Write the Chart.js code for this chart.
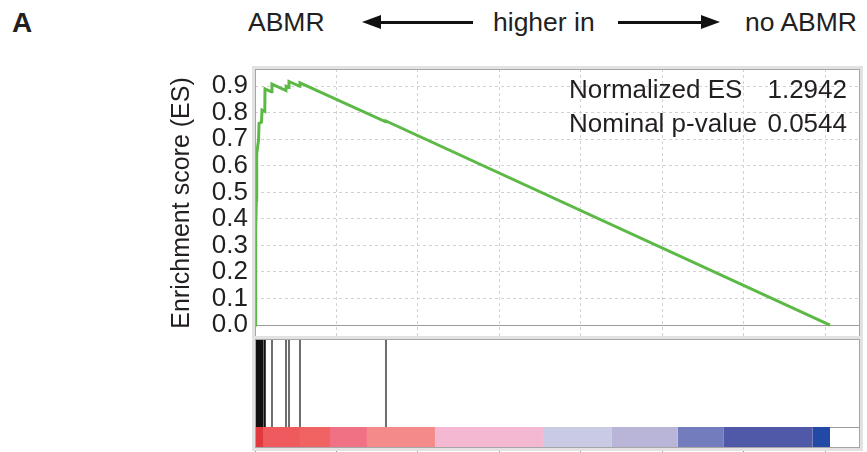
<!DOCTYPE html>
<html>
<head>
<meta charset="utf-8">
<script src="https://cdn.jsdelivr.net/npm/chart.js@4.4.1/dist/chart.umd.min.js"></script>
<style>
  html, body { margin: 0; padding: 0; background: #fff; }
  #wrap { position: relative; width: 867px; height: 452px; overflow: hidden;
          font-family: 'Liberation Sans', Arial, Helvetica, sans-serif; color: #231f20; }
  canvas { position: absolute; left: 0; }
  #es   { top: 0; }
  #hits { top: 335px; }
  .txt  { position: absolute; font-size: 26.5px; line-height: 27px; top: 9px; white-space: nowrap; }
  .panel { left: 12px; font-weight: bold; font-size: 28px; }
  .arrow { position: absolute; top: 15px; height: 14px; }
  .arrow::before { content: ''; position: absolute; top: 5.5px; height: 3px; background: #111; }
  .arrow::after  { content: ''; position: absolute; top: 0; border-top: 7px solid transparent; border-bottom: 7px solid transparent; }
  .arrow.left::before  { left: 16px; right: 0; }
  .arrow.left::after   { left: 0; border-right: 19px solid #111; }
  .arrow.right::before { left: 0; right: 16px; }
  .arrow.right::after  { right: 0; border-left: 19px solid #111; }
  #stats { position: absolute; left: 569px; width: 278px; top: 72px; font-size: 26px; line-height: 34px; z-index: 2; }
  #stats div { display: flex; justify-content: space-between; }
</style>
</head>
<body>
<div id="wrap">
  <span class="txt panel">A</span>
  <span class="txt" style="left:248px">ABMR</span>
  <div class="arrow left" style="left:362px; width:111px"></div>
  <span class="txt" style="left:493px">higher in</span>
  <div class="arrow right" style="left:618px; width:102px"></div>
  <span class="txt" style="left:745px">no ABMR</span>

  <canvas id="es" width="867" height="362"></canvas>
  <canvas id="hits" width="867" height="117"></canvas>

  <div id="stats">
    <div><span>Normalized ES</span><span>1.2942</span></div>
    <div><span>Nominal p-value</span><span>0.0544</span></div>
  </div>
</div>

<script>
// running enrichment score (rank in gene list -> ES)
const esRank  = [0, 10, 20, 30, 40, 50, 55, 110, 123, 200, 215, 300, 307, 500, 521, 950, 955, 1040, 1043, 1370, 1380, 4010, 4018, 17640];
const esValue = [0, 0.12, 0.24, 0.36, 0.47, 0.58, 0.645, 0.70, 0.76, 0.765, 0.81, 0.805, 0.89, 0.879, 0.908, 0.884, 0.90, 0.895, 0.918, 0.900, 0.913, 0.766, 0.769, 0];

// gene set members in the ranked list
const hitsEarly = [3, 12, 21, 30, 40, 50, 60, 75, 95, 110, 123, 140, 160, 180, 200, 215, 228, 300];
const hitsLate  = [521, 951, 1043, 1380, 4018];

// ranked list metric colour band
const bandEdges = [0, 245, 1380, 2300, 3435, 5520, 8833, 10950, 12973, 14384, 17114, 17640];
const bandFills = ['#e2393f', '#ee5a5d', '#f06362', '#f17184', '#f48a89', '#f4b8d3',
                   '#c9cbe5', '#b8b5d8', '#737dbd', '#4f59a8', '#2349a6'];

const yTicks = [0, 0.1, 0.2, 0.3, 0.4, 0.5, 0.6, 0.7, 0.8, 0.9];
const xGrid  = [0, 2500, 5000, 7500, 10000, 12500, 15000, 17500];

const RANK_MAX = 18560;
const Y_MIN = -0.045, Y_MAX = 0.965;
const BAR_TOP = 21, HIT_TOP = 108, LOWER_MAX = 109;

const FONT = "'Liberation Sans', Arial, Helvetica, sans-serif";
const INK  = '#231f20';

// gray frame around each panel, plus an optional horizontal rule
const framePlugin = {
  id: 'frame',
  beforeDatasetsDraw(chart, args, opts) {
    if (opts.ruleAt === undefined) return;
    const { ctx, chartArea: a, scales } = chart;
    const y = Math.round(scales.y.getPixelForValue(opts.ruleAt)) + 0.5;
    ctx.save();
    ctx.strokeStyle = '#9c9c9c';
    ctx.lineWidth = 1.2;
    ctx.beginPath(); ctx.moveTo(a.left, y); ctx.lineTo(a.right, y); ctx.stroke();
    ctx.restore();
  },
  afterDraw(chart) {
    const { ctx, chartArea: a } = chart;
    ctx.save();
    ctx.strokeStyle = '#e2e2e2';
    ctx.lineWidth = 3;
    ctx.strokeRect(a.left - 1.5, a.top - 1.5, a.right - a.left + 3, a.bottom - a.top + 3);
    ctx.strokeStyle = '#a6a6a6';
    ctx.lineWidth = 1;
    ctx.strokeRect(a.left + 0.5, a.top + 0.5, a.right - a.left - 1, a.bottom - a.top - 1);
    ctx.restore();
  },
};

function setTicks(values) {
  return function (scale) { scale.ticks = values.map(function (v) { return { value: v }; }); };
}

new Chart(document.getElementById('es'), {
  type: 'line',
  data: {
    datasets: [{
      data: esRank.map(function (r, i) { return { x: r, y: esValue[i] }; }),
      borderColor: '#5cb946',
      borderWidth: 3,
      pointRadius: 0,
      tension: 0,
    }],
  },
  options: {
    responsive: false,
    animation: false,
    // bottom padding leaves room for Chart.js' own tick-label overflow
    layout: { padding: { top: 69, right: 7, bottom: 25, left: 0 } },
    plugins: { legend: { display: false }, tooltip: { enabled: false }, frame: { ruleAt: 0 } },
    scales: {
      x: {
        type: 'linear', min: 0, max: RANK_MAX,
        afterBuildTicks: setTicks(xGrid),
        afterFit: function (s) { s.height = 0; },
        ticks: { display: false },
        grid: { color: '#d2d2d2', drawTicks: false },
        border: { display: false, dash: [3, 3] },
      },
      y: {
        min: Y_MIN, max: Y_MAX,
        afterBuildTicks: setTicks(yTicks),
        afterFit: function (s) { s.width = 255; },
        ticks: {
          autoSkip: false,
          padding: 7, color: INK, font: { family: FONT, size: 26 },
          callback: function (v) { return v.toFixed(1); },
        },
        grid: {
          drawTicks: false,
          color: function (c) { return c.tick && c.tick.value === 0 ? 'rgba(0,0,0,0)' : '#d2d2d2'; },
        },
        border: { display: false, dash: [3, 3] },
        title: {
          display: true, text: 'Enrichment score (ES)', color: INK,
          font: { family: FONT, size: 25 }, padding: { top: 167, bottom: 0 },
        },
      },
    },
  },
  plugins: [framePlugin],
});

function hitLines(ranks) {
  var pts = [];
  ranks.forEach(function (r) {
    pts.push({ x: r, y: BAR_TOP }, { x: r, y: HIT_TOP }, { x: r, y: null });
  });
  return pts;
}

var lowerSets = [
  { data: hitLines(hitsEarly), borderColor: '#111', borderWidth: 2, pointRadius: 0, spanGaps: false },
  { data: hitLines(hitsLate), borderColor: '#6e6e6e', borderWidth: 2, pointRadius: 0, spanGaps: false },
];
bandFills.forEach(function (c, i) {
  lowerSets.push({
    data: [{ x: bandEdges[i], y: BAR_TOP }, { x: bandEdges[i + 1], y: BAR_TOP }],
    borderColor: 'rgba(0,0,0,0)', borderWidth: 0, pointRadius: 0,
    backgroundColor: c, fill: { value: 0 },
  });
});

new Chart(document.getElementById('hits'), {
  type: 'line',
  data: { datasets: lowerSets },
  options: {
    responsive: false,
    animation: false,
    layout: { padding: { top: 4, right: 7, bottom: 0, left: 255 } },
    plugins: { legend: { display: false }, tooltip: { enabled: false }, frame: { ruleAt: BAR_TOP } },
    scales: {
      x: {
        type: 'linear', min: 0, max: RANK_MAX,
        afterBuildTicks: setTicks(xGrid),
        afterFit: function (s) { s.height = 4; },
        ticks: { display: false },
        grid: { drawOnChartArea: false, drawTicks: true, tickLength: 4, tickColor: '#9c9c9c' },
        border: { display: false },
      },
      y: { display: false, min: 0, max: LOWER_MAX },
    },
  },
  plugins: [framePlugin],
});
</script>
</body>
</html>
